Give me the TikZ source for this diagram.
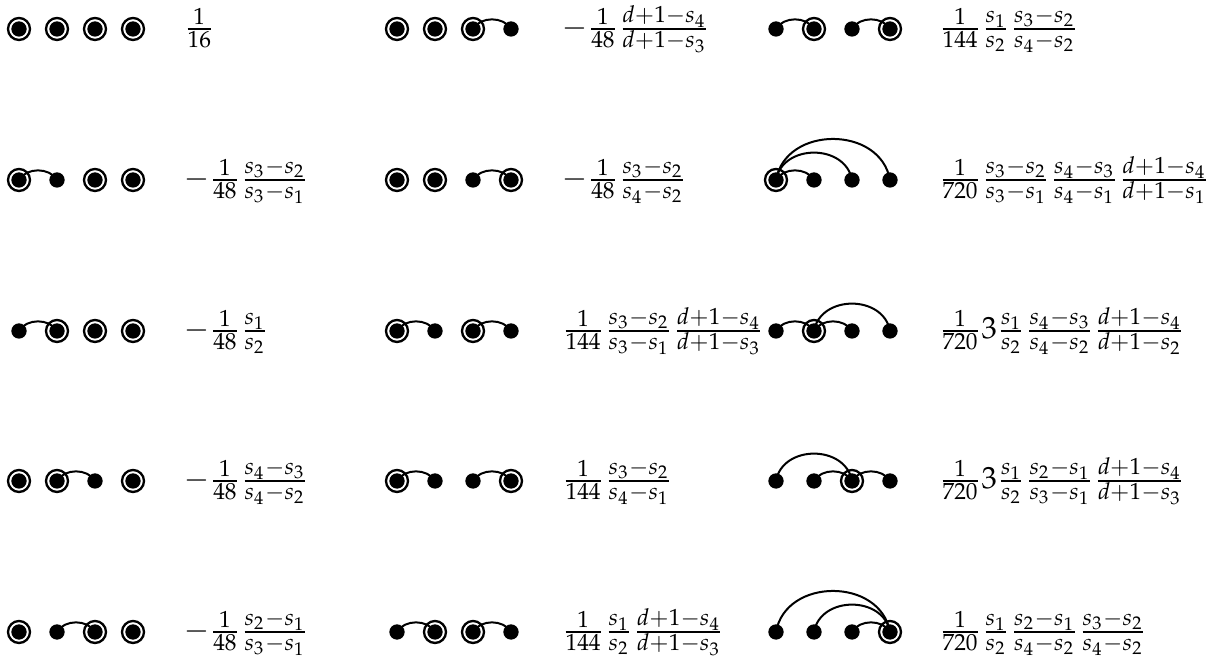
\documentclass[tikz,border=0pt]{standalone}
\usepackage{amsmath}
\usepackage{mathpazo}
\usepackage{tikz}

% one chain of four points: name, x, y, kinds (1 = circled point)
\newcommand{\chain}[4]{%
  \foreach \k [count=\i] in {#4} {
    \ifnum\k=1
      \node[ring] (#1-\i) at (#2+38*\i-38,#3) {};
    \else
      \node[blob] (#1-\i) at (#2+38*\i-38,#3) {};
    \fi
  }
}

\begin{document}
\begin{tikzpicture}[
  x=0.3pt, y=-0.3pt,
  ring/.style={circle, draw, line width=0.7pt, minimum size=6.6pt, inner sep=0, outer sep=0,
    path picture={\fill (path picture bounding box.center) circle (2.3pt);}},
  blob/.style={circle, fill, minimum size=4.6pt, inner sep=0, outer sep=0},
  shortarc/.style={line width=0.6pt, out=60, in=120},
  longarc/.style={line width=0.6pt, out=80, in=100, looseness=1.25},
  expr/.style={anchor=base west, yshift=-2.3pt, inner sep=0, font=\fontsize{9.2}{11}\selectfont}
]
\useasboundingbox (0,0) rectangle (1211,658);
% first column
\chain{a1}{19}{29}{1,1,1,1}
\chain{a2}{19}{180}{1,0,1,1}
\chain{a3}{19}{331}{0,1,1,1}
\chain{a4}{19}{481}{1,1,0,1}
\chain{a5}{19}{632}{1,0,1,1}
\draw[shortarc] (a2-1.center) to (a2-2.center);
\draw[shortarc] (a3-1.center) to (a3-2.center);
\draw[shortarc] (a4-2.center) to (a4-3.center);
\draw[shortarc] (a5-2.center) to (a5-3.center);
\node[expr] (a1e) at (183,29) {$\frac{1}{16}$};
\node[expr] (a2e) at (183,180) {$-\frac{1}{48}\frac{s_3-s_2}{s_3-s_1}$};
\node[expr] (a3e) at (183,331) {$-\frac{1}{48}\frac{s_1}{s_2}$};
\node[expr] (a4e) at (183,481) {$-\frac{1}{48}\frac{s_4-s_3}{s_4-s_2}$};
\node[expr] (a5e) at (183,632) {$-\frac{1}{48}\frac{s_2-s_1}{s_3-s_1}$};
% second column
\chain{b1}{397}{29}{1,1,1,0}
\chain{b2}{397}{180}{1,1,0,1}
\chain{b3}{397}{331}{1,0,1,0}
\chain{b4}{397}{481}{1,0,0,1}
\chain{b5}{397}{632}{0,1,1,0}
\draw[shortarc] (b1-3.center) to (b1-4.center);
\draw[shortarc] (b2-3.center) to (b2-4.center);
\foreach \n in {b3,b4,b5} {
  \draw[shortarc] (\n-1.center) to (\n-2.center);
  \draw[shortarc] (\n-3.center) to (\n-4.center);
}
\node[expr] (b1e) at (561,29) {$-\frac{1}{48}\frac{d+1-s_4}{d+1-s_3}$};
\node[expr] (b2e) at (561,180) {$-\frac{1}{48}\frac{s_3-s_2}{s_4-s_2}$};
\node[expr] (b3e) at (561,331) {$\frac{1}{144}\frac{s_3-s_2}{s_3-s_1}\frac{d+1-s_4}{d+1-s_3}$};
\node[expr] (b4e) at (561,481) {$\frac{1}{144}\frac{s_3-s_2}{s_4-s_1}$};
\node[expr] (b5e) at (561,632) {$\frac{1}{144}\frac{s_1}{s_2}\frac{d+1-s_4}{d+1-s_3}$};
% third column
\chain{c1}{776}{29}{0,1,0,1}
\chain{c2}{776}{180}{1,0,0,0}
\chain{c3}{776}{331}{0,1,0,0}
\chain{c4}{776}{481}{0,0,1,0}
\chain{c5}{776}{632}{0,0,0,1}
\draw[shortarc] (c1-1.center) to (c1-2.center);
\draw[shortarc] (c1-3.center) to (c1-4.center);
\draw[shortarc] (c2-1.center) to (c2-2.center);
\draw[longarc] (c2-1.center) to (c2-3.center);
\draw[longarc] (c2-1.center) to (c2-4.center);
\draw[shortarc] (c3-1.center) to (c3-2.center);
\draw[shortarc] (c3-2.center) to (c3-3.center);
\draw[longarc] (c3-2.center) to (c3-4.center);
\draw[longarc] (c4-1.center) to (c4-3.center);
\draw[shortarc] (c4-2.center) to (c4-3.center);
\draw[shortarc] (c4-3.center) to (c4-4.center);
\draw[longarc] (c5-1.center) to (c5-4.center);
\draw[longarc] (c5-2.center) to (c5-4.center);
\draw[shortarc] (c5-3.center) to (c5-4.center);
\node[expr] (c1e) at (938,29) {$\frac{1}{144}\frac{s_1}{s_2}\frac{s_3-s_2}{s_4-s_2}$};
\node[expr] (c2e) at (938,180) {$\frac{1}{720}\frac{s_3-s_2}{s_3-s_1}\frac{s_4-s_3}{s_4-s_1}\frac{d+1-s_4}{d+1-s_1}$};
\node[expr] (c3e) at (938,331) {$\frac{1}{720}3\frac{s_1}{s_2}\frac{s_4-s_3}{s_4-s_2}\frac{d+1-s_4}{d+1-s_2}$};
\node[expr] (c4e) at (938,481) {$\frac{1}{720}3\frac{s_1}{s_2}\frac{s_2-s_1}{s_3-s_1}\frac{d+1-s_4}{d+1-s_3}$};
\node[expr] (c5e) at (938,632) {$\frac{1}{720}\frac{s_1}{s_2}\frac{s_2-s_1}{s_4-s_2}\frac{s_3-s_2}{s_4-s_2}$};
\end{tikzpicture}
\end{document}
